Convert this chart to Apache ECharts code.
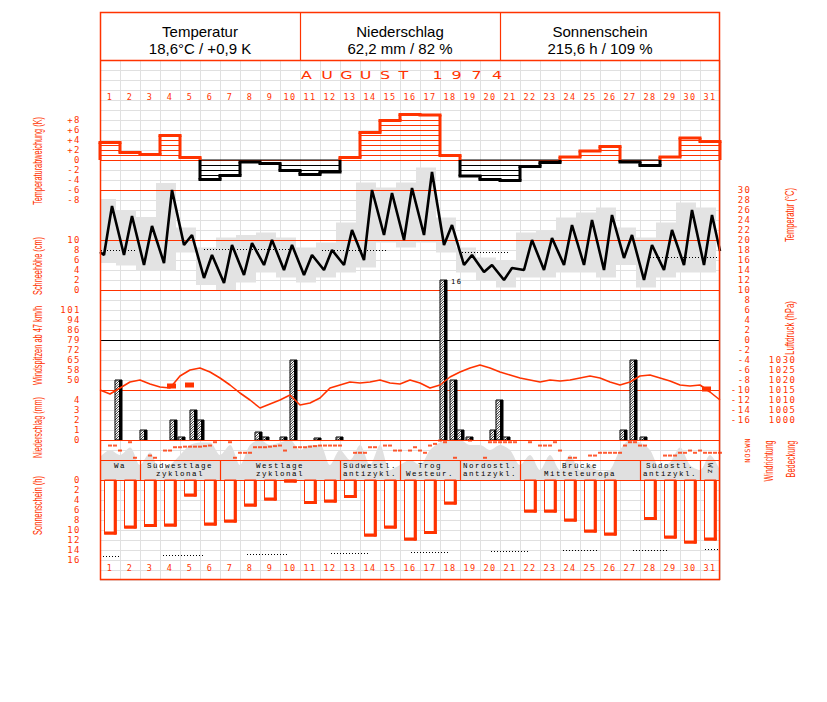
<!DOCTYPE html>
<html>
<head>
<meta charset="utf-8">
<title>August 1974</title>
<script src="https://cdn.jsdelivr.net/npm/echarts/dist/echarts.min.js"></script>
<style>
html,body{margin:0;padding:0;background:#ffffff;}
#chart{width:827px;height:702px;}
#chart text[style*="DejaVu Sans Mono"]{letter-spacing:1.5px;}
#chart text[style*="Liberation Mono"]{letter-spacing:1.5px;}
</style>
</head>
<body>
<div id="chart"></div>
<script>
// ================= DATA =================
const days = ['1','2','3','4','5','6','7','8','9','10','11','12','13','14','15','16','17','18','19','20','21','22','23','24','25','26','27','28','29','30','31'];
const windTickLabels = ['50','58','65','72','79','86','94','101'];
const dirTickLabels = ['N','O','S','W','N'];

const summaryTitles = ['Temperatur','Niederschlag','Sonnenschein'];
const summaryValues = ['18,6°C / +0,9 K','62,2 mm / 82 %','215,6 h / 109 %'];
const monthLetters = ['A','U','G','U','S','T','1','9','7','4'];

// daily temperature deviation (K)
const devK = [3.5,1.5,1.1,4.9,0.5,-3.9,-3.1,-0.4,-0.7,-2.1,-2.9,-2.4,0.5,5.5,7.9,9.1,9.0,0.9,-3.2,-3.9,-4.1,-1.3,-0.5,0.6,1.8,2.7,-0.4,-1.1,0.6,4.4,3.7];

// temperature curve (°C): daily low / high of the observation curve
const tStart = 17.6;
const tMin = [17,17,15,15.4,19,12.4,11.4,13,15,14,13,14,15,16,21,20,21,19,15,13.6,12,14,14,15,15,14,16.4,12,14,15,15];
const tMax = [26.8,24.8,22.8,30,21,17,19,19.4,20,19,17,18,22,30,29.4,30.4,33.6,23,17,15,14.4,20,20.4,23,24,25,21,19,22,26,25];
const tEnd = 17.8;
// daily extremes (grey boxes)
const boxMax = [28.2,26,24.6,31.4,22.5,18.5,20.5,21,21.5,20.5,18.5,19.5,23.5,31.5,30.5,31.5,34.5,24.5,18.5,16.5,16,21.5,22,24.5,25.5,26.5,22.5,20.5,23.5,27.5,26.5];
const boxMin = [15.4,14.9,13.9,13.8,17.5,11,10,11.5,13.5,12.5,11.5,12.5,13.5,14.5,19.5,18.5,19.5,17.5,13.5,12,10.5,12.5,12.5,13.5,13.5,12.5,15,10.5,12.5,13.5,13.5];
// dotted normal temperature segments
const normStart = [0.05,5.2,11.1,18.1,27.5];
const normEnd   = [1.85,9.5,14.4,20.5,31];
const normT     = [18.1,18.2,18.0,17.6,16.6];

// precipitation events (time in days, mm)
const precT  = [0.75,2.0,3.5,3.9,4.5,4.85,7.75,8.1,9.0,9.5,10.7,11.8,17.0,17.5,17.85,18.3,19.5,19.8,20.15,26.0,26.5,27.0];
const precMm = [6.0,1.0,2.0,0.3,3.0,2.0,0.8,0.3,0.3,8.0,0.2,0.3,16.0,6.0,1.0,0.3,1.0,4.0,0.3,1.0,8.0,0.3];

// air pressure (hPa), every half day from Aug 1 0h
const presHpa = [1015,1013,1016,1019,1020,1018,1016.5,1016,1022,1025,1026,1024,1021,1017.5,1013.5,1010,1006,1008,1010,1012.5,1007.5,1008.5,1011,1016,1017.5,1019,1018.5,1019,1020,1018.5,1018,1020,1018.5,1016,1017.5,1021.5,1024,1026,1027.5,1026,1024,1022.5,1021,1020,1019,1020,1019.5,1020,1021,1022,1021,1019,1017.5,1019,1022,1022.5,1021,1019.5,1017.5,1017,1017.5,1014,1010];
// thunderstorm marks on the pressure curve
const stormT = [3.55,4.45,30.3];
const stormP = [1017,1017.5,1015.5];

// cloud cover (octas), every half day
const cloudOkta = [4.6,6,5,6.5,3,5.5,2,3,5,7,7.5,7.5,5,7,3,7,8,7,7.5,8,6,7,7,3,6,4,7,3,7,2,3,4,3,6,7.5,8,8,7,7,6,7,6,3,5,2,5,2,5,2,3,1.5,2,6,8,7.5,6,2.5,3.5,6.5,3,2,5,2];
// wind direction (degrees), every quarter day (null = no mark)
const windDeg = [null,null,260,260,170,null,320,40,null,null,80,40,null,170,170,230,230,240,240,240,240,250,260,320,null,null,320,40,130,130,130,230,230,230,240,250,260,170,null,230,230,230,240,250,260,260,260,260,260,null,null,130,130,130,230,230,null,260,260,170,170,null,170,230,170,130,260,290,350,320,null,40,null,null,350,null,null,40,320,320,320,320,320,320,null,null,320,null,260,260,260,320,170,null,40,40,null,null,80,80,130,130,130,130,130,260,320,320,260,260,null,null,null,80,80,80,130,130,170,130,170,130,130,130,130];

// Grosswetterlagen
const wtStart = [0,2,6,12,15,18,21,27,30];
const wtEnd   = [2,6,12,15,18,21,27,30,31];
const wtName  = [['Wa'],['Südwestlage','zyklonal'],['Westlage','zyklonal'],['Südwestl.','antizykl.'],['Trog','Westeur.'],['Nordostl.','antizykl.'],['Brücke','Mitteleuropa'],['Südostl.','antizykl.'],['Wz']];

// sunshine (h)
const sunH = [10.8,9.6,9.3,9.2,3.2,9.0,8.4,5.2,4.0,0.4,4.7,4.4,3.5,11.2,9.6,12.0,10.7,4.8,0,0,0,6.4,6.4,8.2,10.4,11.0,0,7.9,11.6,12.6,12.0];
// possible sunshine (dotted segments)
const possStart = [0,3.15,7.35,11.55,15.55,19.55,23.15,26.65,30.25];
const possEnd   = [1.0,5.2,9.4,13.5,17.5,21.4,24.9,28.4,31];
const possH     = [15.2,15.0,14.7,14.6,14.4,14.2,14.0,13.9,13.7];

const refTemps = [30,20,10,0,-10];

// ================= CHART =================
const RED = '#ff3300';
const GRID_GRAY = '#e0e0e0';
const BOX_GRAY = '#e3e3e3';
const PREC_MAX = 16;

const gridDefs = [
  [60,520],  //0 background
  [120,80],  //1 deviation
  [190,230], //2 temperature
  [240,50],  //3 snow
  [310,70],  //4 wind gusts
  [280,160], //5 precipitation
  [360,60],  //6 pressure
  [440,20],  //7 wind direction
  [440,40],  //8 cloud / weather type
  [480,80],  //9 sunshine
  [60,30],   //10 day labels top
  [540,21]   //11 day labels bottom
];
const grid = gridDefs.map(g => ({left:100, width:620, top:g[0], height:g[1], containLabel:false, outerBoundsMode:'none', show:false}));

const xAxis = gridDefs.map((g,i) => {
  if (i === 10 || i === 11) {
    return {type:'category', gridIndex:i, data:days, boundaryGap:true,
      axisLine:{show:false}, axisTick:{show:false}, splitLine:{show:false},
      axisLabel:{color:RED, fontSize:8.5, fontFamily:'DejaVu Sans Mono', margin:2.5, interval:0}};
  }
  return {type:'value', gridIndex:i, min:0, max:31, interval:1, show: i===0,
    axisLine:{show:false}, axisTick:{show:false}, axisLabel:{show:false},
    splitLine:{show: i===0, lineStyle:{color:GRID_GRAY, width:1}}};
});

const lab = (extra) => Object.assign({color:RED, fontSize:9, fontFamily:'DejaVu Sans Mono'}, extra);
const baseY = {axisLine:{show:false}, axisTick:{show:false}, splitLine:{show:false}};
const yAxis = [
  Object.assign({}, baseY, {type:'value', gridIndex:0, min:0, max:52, interval:1, axisLabel:{show:false}, splitLine:{show:true, lineStyle:{color:GRID_GRAY, width:1}}}),
  Object.assign({}, baseY, {type:'value', gridIndex:1, min:-8, max:8, interval:2, axisLabel:lab({margin:19, formatter: v => v>0 ? '+'+v : (v<0 ? '-'+Math.abs(v) : '0')})}),
  Object.assign({}, baseY, {type:'value', gridIndex:2, position:'right', min:-16, max:30, interval:2, axisLabel:lab({margin:31.5, align:'right', formatter: v => String(v)})}),
  Object.assign({}, baseY, {type:'value', gridIndex:3, min:0, max:10, interval:2, axisLabel:lab({margin:19, formatter: v => String(v)})}),
  Object.assign({}, baseY, {type:'value', gridIndex:4, min:0, max:7, interval:1, axisLabel:lab({margin:19, formatter: v => windTickLabels[v]})}),
  Object.assign({}, baseY, {type:'value', gridIndex:5, min:0, max:16, interval:1, axisLabel:lab({margin:19, formatter: v => v<=4 ? String(v) : ''})}),
  Object.assign({}, baseY, {type:'value', gridIndex:6, position:'right', min:1000, max:1030, interval:5, axisLabel:lab({margin:76.5, align:'right', formatter: v => String(v)})}),
  Object.assign({}, baseY, {type:'value', gridIndex:7, position:'right', min:0, max:360, interval:90, axisLabel:lab({fontSize:7, margin:28, rotate:90, align:'center', verticalAlign:'middle', formatter: v => dirTickLabels[v/90]})}),
  Object.assign({}, baseY, {type:'value', gridIndex:8, min:0, max:8, axisLabel:{show:false}}),
  Object.assign({}, baseY, {type:'value', gridIndex:9, min:0, max:16, interval:2, inverse:true, axisLabel:lab({margin:19, formatter: v => String(v)})}),
  Object.assign({}, baseY, {type:'value', gridIndex:10, show:false}),
  Object.assign({}, baseY, {type:'value', gridIndex:11, show:false})
];

function gline(x1,y1,x2,y2,stroke,w,dash){
  const s = {stroke:stroke, lineWidth:w};
  if (dash) s.lineDash = dash;
  return {type:'line', shape:{x1:x1,y1:y1,x2:x2,y2:y2}, style:s};
}

function renderRef(params, api){
  const cs = params.coordSys;
  const v = api.value(1);
  const y = Math.round(api.coord([0,v])[1]) + 0.5;
  return gline(cs.x, y, cs.x+cs.width, y, Math.abs(v) < 0.01 && params.seriesName==='ref' ? '#000' : RED, 1);
}

function renderDev(params, api){
  const i = params.dataIndex;
  const d = api.value(0), v = api.value(1);
  const x0 = api.coord([d-1,0])[0], x1 = api.coord([d,0])[0];
  const yz = api.coord([0,0])[1];
  const col = v >= 0 ? RED : '#000';
  const ch = [];
  const s = v >= 0 ? 1 : -1;
  for (let k = 1; k < Math.abs(v) - 0.25; k++) {
    const y = Math.round(api.coord([0, s*k])[1]) + 0.5;
    ch.push(gline(x0, y, x1, y, col, 1));
  }
  if (v < 0) ch.push(gline(x0, yz, x1, yz, '#000', 1));
  const yv = api.coord([0,v])[1];
  ch.push(gline(x0-1.5, yv, x1+1.5, yv, col, 3));
  const pv = i > 0 ? devK[i-1] : 0;
  const yp = api.coord([0,pv])[1];
  if ((pv >= 0) === (v >= 0)) {
    ch.push(gline(x0, yp, x0, yv, col, 3));
  } else {
    ch.push(gline(x0, yp, x0, yz, pv >= 0 ? RED : '#000', 3));
    ch.push(gline(x0, yz, x0, yv, col, 3));
  }
  if (i === devK.length - 1) ch.push(gline(x1, yv, x1, yz, col, 3));
  return {type:'group', children:ch};
}

function renderBox(params, api){
  const cs = params.coordSys;
  const d = api.value(0), hi = api.value(1), lo = api.value(2);
  const p1 = api.coord([d-1-0.2, hi]), p2 = api.coord([d-0.2, lo]);
  const xa = Math.max(p1[0], cs.x);
  return {type:'rect', shape:{x:xa, y:p1[1], width:p2[0]-xa, height:p2[1]-p1[1]}, style:{fill:BOX_GRAY}};
}

function renderDotted(params, api){
  const a = api.coord([api.value(0), api.value(2)]), b = api.coord([api.value(1), api.value(2)]);
  const y = Math.round(a[1]) + 0.5;
  return gline(a[0], y, b[0], y, '#000', 1, [1,2]);
}

function renderPrec(params, api){
  const t = api.value(0), mm = api.value(1);
  const xL = api.coord([t,0])[0], xM = api.coord([t+0.2,0])[0], xR = api.coord([t+0.35,0])[0];
  const yB = api.coord([0,0])[1], yT = api.coord([0,mm])[1];
  const ch = [{type:'rect', shape:{x:xL, y:yT, width:xR-xL, height:yB-yT}, style:{fill:'#fff', stroke:'#000', lineWidth:1}}];
  const w = xM - xL;
  for (let y = yT; y <= yB + w; y += 2.5) {
    const s0 = Math.max(0, y - yB), s1 = Math.min(w, y - yT);
    if (s1 > s0) ch.push(gline(xL+s0, y-s0, xL+s1, y-s1, '#000', 0.8));
  }
  ch.push({type:'rect', shape:{x:xM, y:yT, width:xR-xM, height:yB-yT}, style:{fill:'#000'}});
  if (mm >= PREC_MAX) {
    ch.push({type:'text', x:xR+4, y:yT+2, style:{text:String(mm), fill:'#000', font:'7px "DejaVu Sans Mono"', align:'left', verticalAlign:'middle'}});
  }
  return {type:'group', children:ch};
}

function renderStorm(params, api){
  const p = api.coord([api.value(0), api.value(1)]);
  return {type:'rect', shape:{x:p[0]-4, y:p[1]-2.5, width:9, height:5}, style:{fill:RED}};
}

function renderWT(params, api){
  const cs = params.coordSys;
  const i = params.dataIndex;
  const a = api.coord([api.value(0),0])[0], b = api.coord([api.value(1),0])[0];
  const top = cs.y + cs.height/2, bot = cs.y + cs.height;
  const ch = [];
  if (i > 0) ch.push(gline(Math.round(a)+0.5, top, Math.round(a)+0.5, bot, RED, 1.2));
  const lines = wtName[i];
  const cx = (a + b) / 2;
  const font = '7.5px "Liberation Mono"';
  if (lines.length === 2) {
    ch.push({type:'text', x:cx, y:top+5.5, style:{text:lines[0], fill:'#000', font:font, align:'center', verticalAlign:'middle'}});
    ch.push({type:'text', x:cx, y:top+13.5, style:{text:lines[1], fill:'#000', font:font, align:'center', verticalAlign:'middle'}});
  } else if (b - a < 30) {
    ch.push({type:'text', x:cx, y:top+9, rotation:-Math.PI/2, style:{text:lines[0], fill:'#000', font:font, align:'center', verticalAlign:'middle'}});
  } else {
    ch.push({type:'text', x:cx, y:top+5.5, style:{text:lines[0], fill:'#000', font:font, align:'center', verticalAlign:'middle'}});
  }
  return {type:'group', children:ch};
}

function renderSun(params, api){
  const d = api.value(0), h = api.value(1);
  if (!h) return null;
  const xL = api.coord([d-1+0.2,0])[0], xR = api.coord([d-1+0.835,0])[0];
  const y0 = api.coord([0,0])[1], y1 = api.coord([0,h])[1];
  return {type:'group', children:[
    {type:'rect', shape:{x:xL+0.5, y:y0, width:xR-xL-1, height:y1-y0}, style:{fill:'#fff', stroke:RED, lineWidth:1}},
    {type:'rect', shape:{x:xR-3, y:y0, width:3, height:y1-y0+0.5}, style:{fill:RED}},
    {type:'rect', shape:{x:xL, y:y1-2.5, width:xR-xL, height:3}, style:{fill:RED}}
  ]};
}

const tempCurve = [[0, tStart]];
for (let i = 0; i < 31; i++) { tempCurve.push([i+0.2, tMin[i]]); tempCurve.push([i+0.6, tMax[i]]); }
tempCurve.push([31, tEnd]);

const series = [
  {type:'custom', name:'ref', xAxisIndex:2, yAxisIndex:2, renderItem:renderRef, data:refTemps.map(v=>[0,v]), z:3, silent:true},
  {type:'custom', name:'zero', xAxisIndex:1, yAxisIndex:1, renderItem:renderRef, data:[[0,0]], z:3, silent:true},
  {type:'custom', name:'Temperaturabweichung', xAxisIndex:1, yAxisIndex:1, renderItem:renderDev, data:devK.map((v,i)=>[i+1,v]), z:4, silent:true},
  {type:'custom', name:'Extreme', xAxisIndex:2, yAxisIndex:2, renderItem:renderBox, clip:false, data:boxMax.map((v,i)=>[i+1,v,boxMin[i]]), z:1, silent:true},
  {type:'custom', name:'Normal', xAxisIndex:2, yAxisIndex:2, renderItem:renderDotted, data:normT.map((v,i)=>[normStart[i],normEnd[i],v]), z:2, silent:true},
  {type:'line', name:'Temperatur', xAxisIndex:2, yAxisIndex:2, data:tempCurve, clip:false, showSymbol:false, lineStyle:{color:'#000', width:2.6}, z:6, silent:true},
  {type:'custom', name:'Niederschlag', xAxisIndex:5, yAxisIndex:5, renderItem:renderPrec, data:precMm.map((v,i)=>[precT[i],v]), z:5, silent:true},
  {type:'line', name:'Luftdruck', xAxisIndex:6, yAxisIndex:6, data:presHpa.map((v,i)=>[i*0.5,v]), clip:false, showSymbol:false, lineStyle:{color:RED, width:1.6}, z:6, silent:true},
  {type:'custom', name:'Gewitter', xAxisIndex:6, yAxisIndex:6, renderItem:renderStorm, data:stormP.map((v,i)=>[stormT[i],v]), z:7, silent:true},
  {type:'line', name:'Bedeckung', xAxisIndex:8, yAxisIndex:8, data:cloudOkta.map((v,i)=>[i*0.5,v]), smooth:0.3, showSymbol:false, lineStyle:{width:0, color:GRID_GRAY}, areaStyle:{color:'#e0e0e0', opacity:1}, z:1, silent:true},
  {type:'scatter', name:'Windrichtung', xAxisIndex:7, yAxisIndex:7, data:windDeg.map((v,i)=>v==null?null:[i*0.25,v]).filter(p=>p), symbol:'rect', symbolSize:[4,2], itemStyle:{color:RED}, z:6, silent:true},
  {type:'custom', name:'Wetterlage', xAxisIndex:8, yAxisIndex:8, renderItem:renderWT, data:wtStart.map((v,i)=>[v,wtEnd[i]]), z:8, silent:true},
  {type:'custom', name:'Sonnenschein', xAxisIndex:9, yAxisIndex:9, renderItem:renderSun, data:sunH.map((v,i)=>[i+1,v]), z:5, silent:true},
  {type:'custom', name:'moeglich', xAxisIndex:9, yAxisIndex:9, renderItem:renderDotted, data:possH.map((v,i)=>[possStart[i],possEnd[i],v]), z:5, silent:true}
];

// ---------- graphic: frame, header, titles ----------
const measure = (() => { const c = document.createElement('canvas').getContext('2d'); return (t, font) => { c.font = font; return c.measureText(t).width; }; })();
const G = [];
const frameLine = (x1,y1,x2,y2,w) => G.push({type:'line', z:100, shape:{x1:x1,y1:y1,x2:x2,y2:y2}, style:{stroke:RED, lineWidth:w||1.2}});
G.push({type:'rect', z:100, shape:{x:100.5,y:12.5,width:619,height:567}, style:{fill:null, stroke:RED, lineWidth:1.5}});
frameLine(100,60.5,720,60.5,1.5);
frameLine(300.5,12,300.5,60,1.2);
frameLine(500.5,12,500.5,60,1.2);
frameLine(100,440.5,720,440.5,1.2);
frameLine(100,460.5,720,460.5,1.2);
frameLine(100,480.5,720,480.5,1.2);

summaryTitles.forEach((t,i) => {
  const cx = 200 + i*200;
  G.push({type:'text', z:100, x:cx, y:31.5, style:{text:t, fill:'#000', font:'15px "Liberation Sans"', align:'center', verticalAlign:'middle'}});
  G.push({type:'text', z:100, x:cx, y:48.5, style:{text:summaryValues[i], fill:'#000', font:'15px "Liberation Sans"', align:'center', verticalAlign:'middle'}});
});
const monthX = [306.5,327,346.5,365.5,385,403.5,437.5,456.5,476.5,497];
monthLetters.forEach((ch,i) => {
  G.push({type:'text', z:100, x:monthX[i], y:74.5, scaleX:1.45, style:{text:ch, fill:RED, font:'11px "DejaVu Sans"', align:'center', verticalAlign:'middle'}});
});

const titles = [
  ['Temperaturabweichung (K)', 37.5, 161, 88],
  ['Schneehöhe (cm)', 37.5, 266, 58],
  ['Windspitzen ab 47 km/h', 37.5, 345.5, 79],
  ['Niederschlag (mm)', 37.5, 427.5, 61],
  ['Sonnenschein (h)', 37.5, 505.5, 59],
  ['Temperatur (°C)', 790, 215, 54],
  ['Luftdruck (hPa)', 790, 328, 54],
  ['Windrichtung', 769, 461, 41],
  ['Bedeckung', 791, 459, 37]
];
const TF = '12px "Liberation Sans"';
titles.forEach(t => {
  const w = measure(t[0], TF);
  G.push({type:'text', z:100, x:t[1], y:t[2], rotation:Math.PI/2, scaleX:t[3]/w, style:{text:t[0], fill:RED, font:TF, align:'center', verticalAlign:'middle'}});
});

const chart = echarts.init(document.getElementById('chart'), null, {renderer:'svg', width:827, height:702});
chart.setOption({
  animation:false,
  backgroundColor:'#ffffff',
  grid:grid, xAxis:xAxis, yAxis:yAxis,
  series:series,
  graphic:{elements:G}
});
</script>
</body>
</html>
